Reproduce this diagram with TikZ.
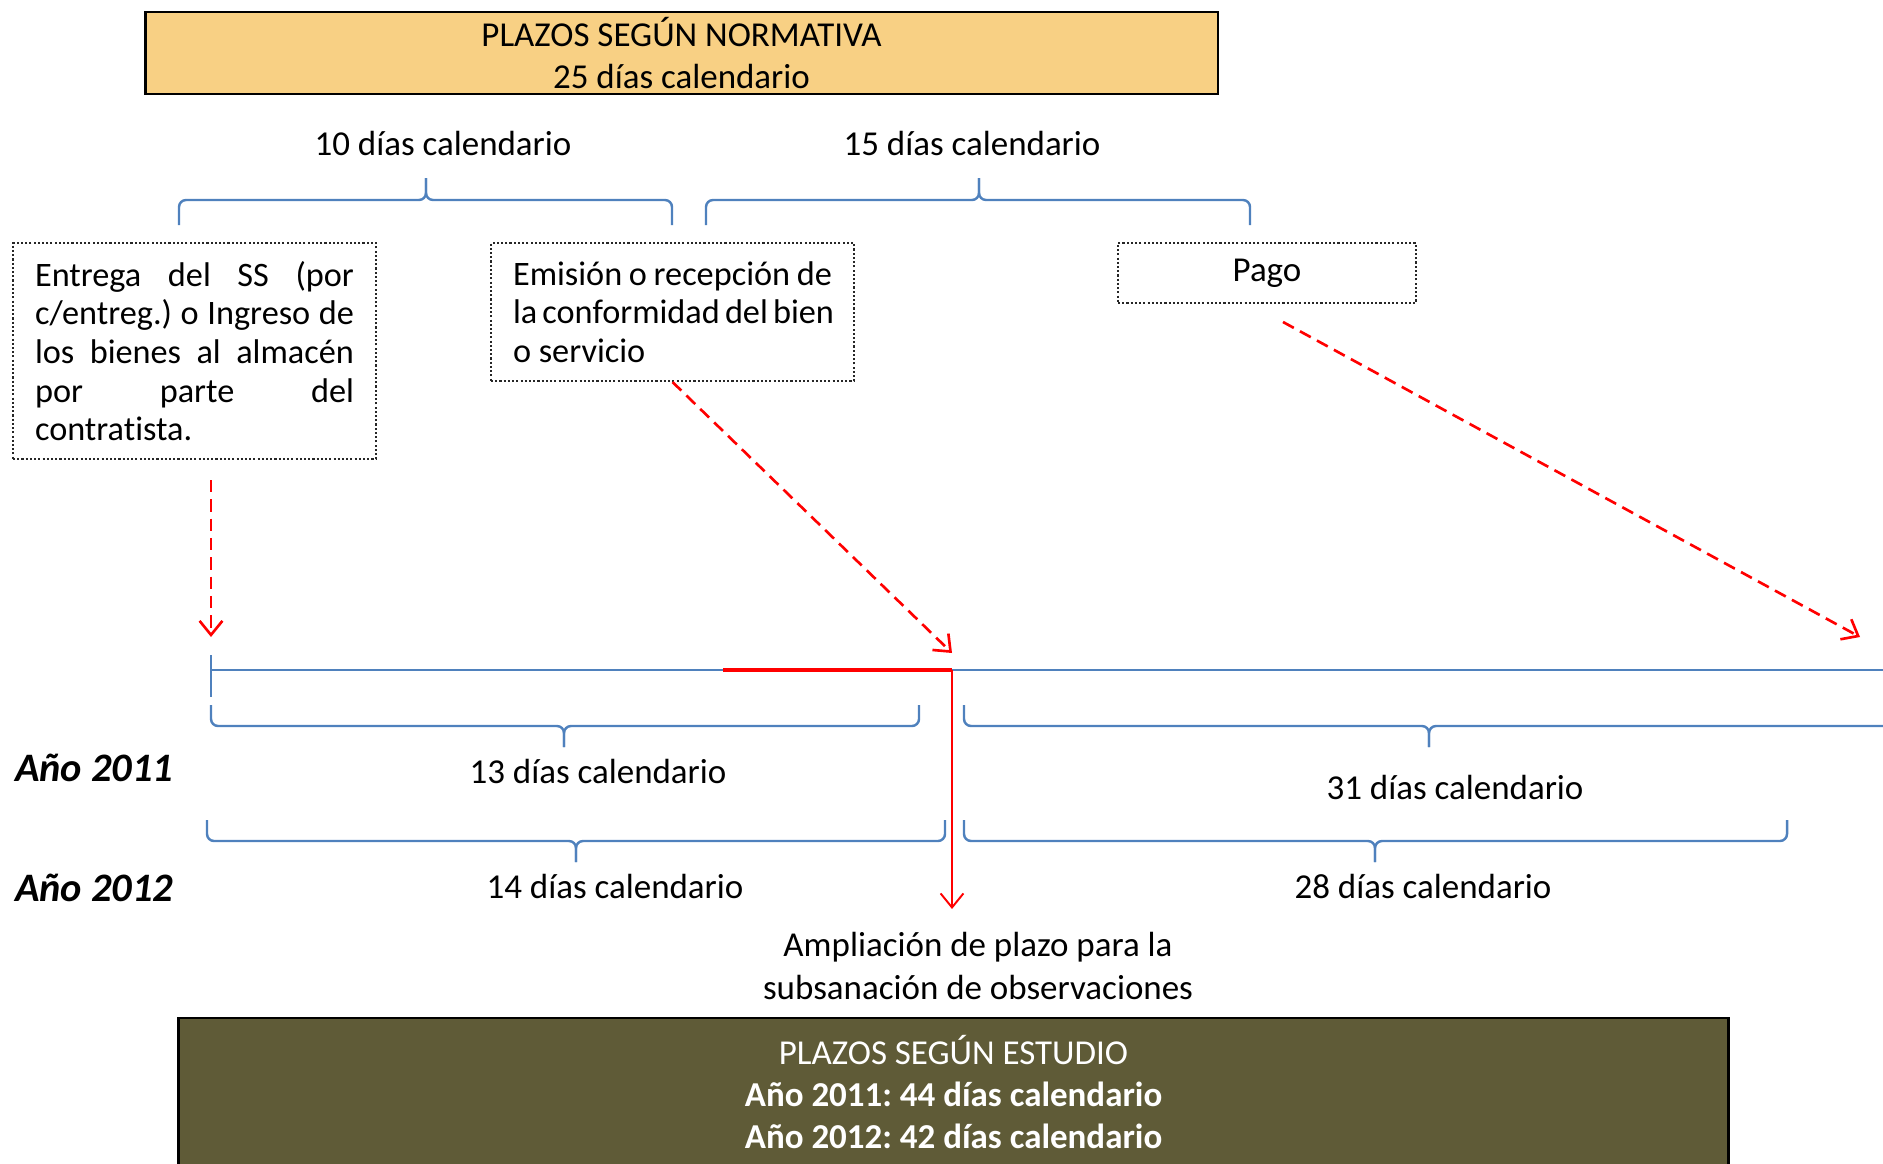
\documentclass[tikz,border=0pt]{standalone}
\usepackage{fontspec}
\setmainfont{Carlito}[Ligatures=NoCommon]
\usetikzlibrary{arrows.meta}

\definecolor{normativa}{HTML}{F8D084}
\definecolor{estudio}{HTML}{5F5B37}
\definecolor{linea}{HTML}{4F81BD}

% llave: x1, x2, xmedio, yextremo, ybarra, ypunta
\newcommand{\llave}[6]{%
  \draw[llave] (#1,#4) -- (#1,#5) -- (#3,#5) -- (#3,#6);
  \draw[llave] (#2,#4) -- (#2,#5) -- (#3,#5) -- (#3,#6);}
% renglon justificado y renglon final
\newcommand{\renglon}[1]{\makebox[6.38cm][s]{\spaceskip=0pt\xspaceskip=0pt\relax #1}}
\newcommand{\final}[1]{{\spaceskip=0pt\xspaceskip=0pt\relax #1}}

\tikzset{
  punteada/.style={draw=black!85, line width=1.2pt, dash pattern=on 1.2pt off 1.2pt,
    inner sep=0pt},
  caja/.style={punteada, align=left, text width=6.38cm,
    font=\fontsize{19.5}{22}\selectfont},
  titulo/.style={draw=black, line width=1.6pt, inner sep=0pt, align=center},
  llave/.style={linea, line width=1.4pt, rounded corners=4pt},
  flecha/.style={red, line width=1.5pt, dash pattern=on 7pt off 4pt,
    -{Straight Barb[length=8pt,width=13pt]}},
  anio/.style={anchor=west, font=\fontsize{23}{27}\selectfont\bfseries\itshape},
}

\begin{document}
\frenchspacing
\begin{tikzpicture}[x=0.02cm, y=-0.02cm, font=\fontsize{19.9}{24}\selectfont]
\useasboundingbox (0,0) rectangle (1883,1163);

% normativa
\node[titulo, fill=normativa, minimum width=21.46cm, minimum height=1.64cm]
  (normativa) at (681.5,53) {PLAZOS SEGÚN NORMATIVA\\25 días calendario};
\node (diez) at (443,143) {10 días calendario};
\node (quince) at (972,143) {15 días calendario};
\llave{179}{672}{426}{225}{200}{178}
\llave{706}{1250}{979}{225}{200}{178}

\node[caja, minimum width=7.26cm, minimum height=4.32cm] (entrega) at (194.5,351)
  {\renglon{Entrega del SS (por}\\\renglon{c/entreg.) o Ingreso de}\\
   \renglon{los bienes al almacén}\\\renglon{por parte del}\\\final{contratista.}};
\node[caja, minimum width=7.26cm, minimum height=2.76cm] (emision) at (672.5,312)
  {\renglon{Emisión o recepción de}\\\renglon{la conformidad del bien}\\\final{o servicio}};
\node[punteada, minimum width=5.96cm, minimum height=1.2cm] (pago) at (1267,273) {\raisebox{-3pt}{Pago}};

% linea de tiempo
\coordinate (t0) at (211,670);
\coordinate (t1) at (723,670);
\coordinate (t2) at (952,670);
\coordinate (tfin) at (1883,670);
\draw[linea, line width=1.6pt] (t0) -- (t1);
\draw[red, line width=2pt] (t1) -- (t2);
\draw[linea, line width=1.6pt] (t2) -- (tfin);
\draw[linea, line width=1.4pt] (211,655) -- (211,697);

\coordinate (s1) at (211,480);
\coordinate (e1) at (211,637);
\coordinate (e2) at (952,653);
\coordinate (s3) at (1283,322);
\coordinate (e3) at (1860,637);
\draw[flecha] (s1) -- (e1);
\draw[flecha] (emision.south) -- (e2);
\draw[flecha] (s3) -- (e3);

% 2011
\node[anio] (a2011) at (9,768) {Año 2011};
\llave{211}{919}{564}{705}{726}{747}
\draw[llave] (964,705) -- (964,726) -- (1429,726) -- (1429,747);
\draw[llave] (1883,726) -- (1429,726) -- (1429,747);
\node (trece) at (598,771) {13 días calendario};
\node (treintauno) at (1455,787) {31 días calendario};

% 2012
\node[anio] (a2012) at (9,888) {Año 2012};
\llave{207}{945}{576}{820}{841}{862}
\llave{964}{1787}{1375}{820}{841}{862}
\node (catorce) at (615,886) {14 días calendario};
\node (veintiocho) at (1423,886) {28 días calendario};

% ampliacion
\coordinate (amp) at (952,909);
\draw[red, line width=1.1pt, -{Straight Barb[length=8pt,width=13pt]}] (t2) -- (amp);
\node[align=center] (ampliacion) at (978,966)
  {Ampliación de plazo para la\\subsanación de observaciones};

% estudio
\node[titulo, fill=estudio, text=white, minimum width=31.02cm, minimum height=2.96cm]
  (estudio) at (953.5,1092)
  {PLAZOS SEGÚN ESTUDIO\\\textbf{Año 2011: 44 días calendario}\\\textbf{Año 2012: 42 días calendario}};
\end{tikzpicture}
\end{document}
